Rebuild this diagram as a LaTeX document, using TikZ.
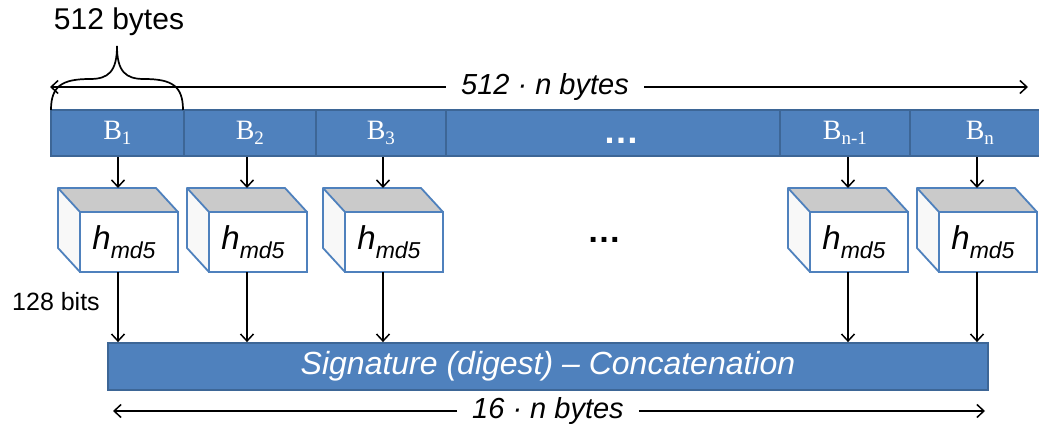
\documentclass[tikz,border=0pt]{standalone}
\usepackage{fontspec}
\setmainfont{Liberation Sans}
\newfontfamily\cellfont{Liberation Serif}
\usetikzlibrary{arrows.meta}

\definecolor{barfill}{HTML}{4F81BD}
\definecolor{barline}{HTML}{3D6696}
\definecolor{cubeline}{HTML}{4F81BD}
\definecolor{cubetop}{HTML}{CACACA}
\definecolor{cubeside}{HTML}{F8F8F8}

\newcommand\fs[1]{\fontsize{#1}{#1}\selectfont}
\newcommand\cellsub[1]{\raisebox{-5pt}{\fs{19}#1}}
\newcommand\hmd{\fs{33}\textit{h}\raisebox{-9pt}{\fs{23}\textit{md5}}\kern10pt}

% one hash unit: drawn as a box in perspective, #1 = name, #2 = left x
\newcommand\hashcube[2]{%
  \fill[cubeside] (#2,188) -- (#2+22,212) -- (#2+22,272) -- (#2,248) -- cycle;
  \fill[cubetop] (#2,188) -- (#2+98,188) -- (#2+120,212) -- (#2+22,212) -- cycle;
  \node[cubefront] (#1) at (#2+71,242) {\hmd};
  \draw[cubeedge] (#2+22,212) -- (#2,188) -- (#2+98,188) -- (#2+120,212);
  \draw[cubeedge] (#2+22,272) -- (#2,248) -- (#2,188);
  \coordinate (#1in) at (#2+60,188);
  \coordinate (#1out) at (#2+60,272);
}

\begin{document}
\begin{tikzpicture}[x=1pt,y=-1pt,
  cell/.style={draw=barline, fill=barfill, line width=1.8pt, minimum height=46pt,
    inner sep=0pt, text=white, font=\cellfont\fs{28}, anchor=north west},
  cubefront/.style={draw=cubeline, fill=white, line width=1.8pt,
    minimum width=98pt, minimum height=60pt, inner sep=0pt},
  cubeedge/.style={draw=cubeline, line width=1.8pt, line join=round},
  sigbar/.style={draw=barline, fill=barfill, line width=1.8pt, minimum width=880pt,
    minimum height=47pt, inner sep=0pt, text=white, font=\fs{32}\itshape},
  dimlabel/.style={inner xsep=15pt, inner ysep=0pt, font=\fs{29}\itshape},
  arr/.style={-{Straight Barb[length=7pt,width=13pt]}, line width=1.5pt},
  dimarrow/.style={-{Straight Barb[length=7pt,width=13pt]}, line width=1.5pt},
  brace/.style={line width=1.7pt}]

\useasboundingbox (0,0) rectangle (1039,428);

% the message split into blocks
\node[cell, minimum width=133pt] (B1) at (50,109) {B\cellsub{1}};
\node[cell, minimum width=132pt] (B2) at (183,109) {B\cellsub{2}};
\node[cell, minimum width=130pt] (B3) at (315,109) {B\cellsub{3}};
\node[cell, minimum width=334pt] (Bmid) at (445,109) {};
\node[cell, minimum width=130pt] (Bm) at (779,109) {B\cellsub{n-1}};
\node[cell, minimum width=140pt] (Bn) at (909,109) {B\cellsub{n}};
\node[text=white, font=\fs{36}\bfseries, inner sep=0pt] (bdots) at (621,141) {…};

% total length of the message
\node[dimlabel] (total) at (545,87) {512 · n bytes};
\coordinate (totL) at (50,87);
\coordinate (totR) at (1028,87);
\draw[dimarrow] (total) -- (totL);
\draw[dimarrow] (total) -- (totR);

% size of one block
\draw[brace] (51,110) .. controls (51,86) and (62,79) .. (90,79)
  .. controls (108,79) and (117,72) .. (117,46)
  .. controls (117,72) and (126,79) .. (144,79)
  .. controls (172,79) and (183,86) .. (183,110);
\node[font=\fs{30}, inner sep=0pt] (blocklen) at (119,22) {512 bytes};

% hash units
\hashcube{h1}{58}
\hashcube{h2}{187}
\hashcube{h3}{323}
\hashcube{hm}{788}
\hashcube{hn}{917}
\node[font=\fs{34}\bfseries, inner sep=0pt] (hdots) at (604,240) {…};

\node[font=\fs{25}, inner sep=0pt] (outlen) at (56,302) {128 bits};

% concatenated digest
\node[sigbar] (sig) at (548,366.5) {Signature (digest) – Concatenation};

% block -> hash
\draw[arr] (B1.south -| h1in) -- (h1in);
\draw[arr] (B2.south -| h2in) -- (h2in);
\draw[arr] (B3.south -| h3in) -- (h3in);
\draw[arr] (Bm.south -| hmin) -- (hmin);
\draw[arr] (Bn.south -| hnin) -- (hnin);

% hash -> digest
\draw[arr] (h1out) -- (h1out |- sig.north);
\draw[arr] (h2out) -- (h2out |- sig.north);
\draw[arr] (h3out) -- (h3out |- sig.north);
\draw[arr] (hmout) -- (hmout |- sig.north);
\draw[arr] (hnout) -- (hnout |- sig.north);

% length of the digest
\node[dimlabel] (digestlen) at (548,411) {16 · n bytes};
\coordinate (digL) at (113,411);
\coordinate (digR) at (985,411);
\draw[dimarrow] (digestlen) -- (digL);
\draw[dimarrow] (digestlen) -- (digR);

\end{tikzpicture}
\end{document}
